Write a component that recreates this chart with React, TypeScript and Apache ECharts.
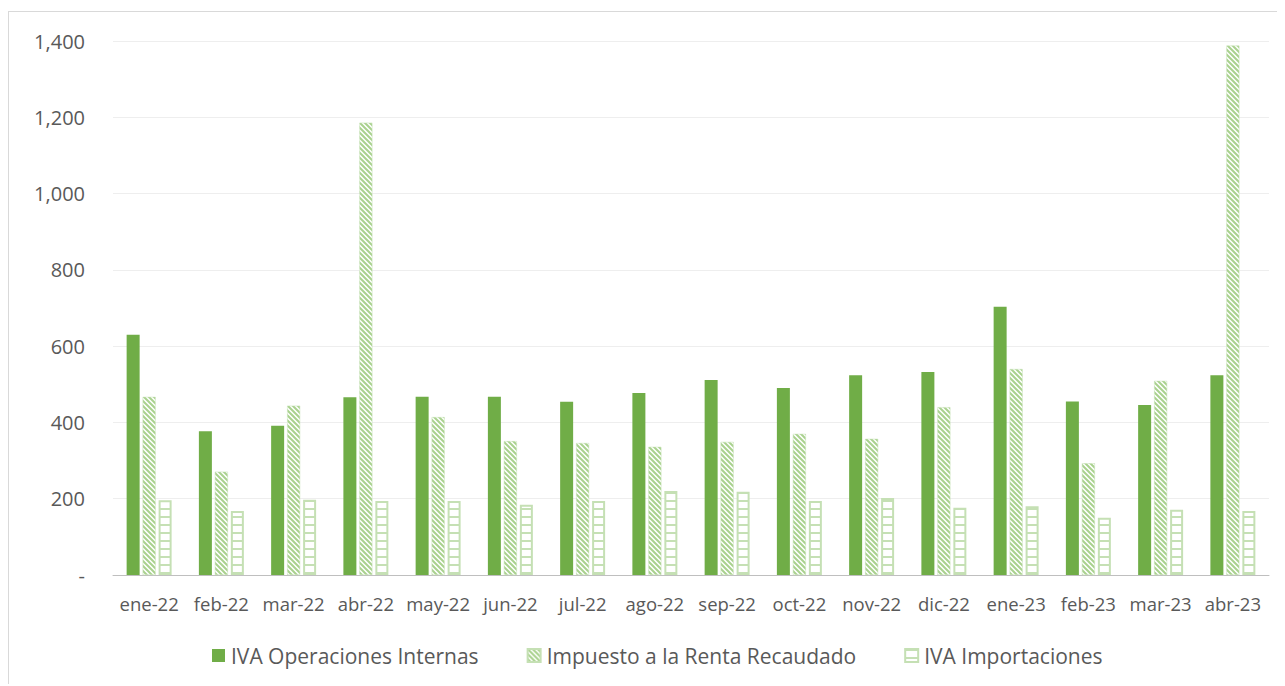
import React, { useEffect, useRef } from "react";
import * as echarts from "echarts";

const categories = ["ene-22","feb-22","mar-22","abr-22","may-22","jun-22","jul-22","ago-22","sep-22","oct-22","nov-22","dic-22","ene-23","feb-23","mar-23","abr-23"];
const ivaInternas = [630, 377, 391, 466, 467, 467, 454, 477, 511, 490, 524, 532, 703, 455, 446, 524];
const rentaRecaudado = [467, 271, 444, 1186, 414, 351, 346, 336, 349, 370, 357, 440, 540, 293, 509, 1388];
const ivaImportaciones = [196, 168, 197, 194, 194, 184, 194, 220, 218, 194, 202, 176, 180, 150, 171, 168];
const yTicks = [0, 200, 400, 600, 800, 1000, 1200, 1400];

const GREEN = "#70ad47";
const LIGHT = "#a9d18e";
const LIGHT2 = "#c5e0b4";

function hatchPattern() {
  const s = 5;
  const c = document.createElement("canvas");
  c.width = s; c.height = s;
  const ctx = c.getContext("2d")!;
  ctx.fillStyle = "#ffffff";
  ctx.fillRect(0, 0, s, s);
  ctx.strokeStyle = LIGHT;
  ctx.lineWidth = 2;
  ctx.beginPath();
  ctx.moveTo(-s, -s); ctx.lineTo(2 * s, 2 * s);
  ctx.moveTo(-s, 0); ctx.lineTo(s, 2 * s);
  ctx.moveTo(0, -s); ctx.lineTo(2 * s, s);
  ctx.stroke();
  return { image: c, repeat: "repeat", imageWidth: s, imageHeight: s } as any;
}

function rungPattern() {
  const w = 4, h = 8;
  const c = document.createElement("canvas");
  c.width = w; c.height = h;
  const ctx = c.getContext("2d")!;
  ctx.fillStyle = "#ffffff";
  ctx.fillRect(0, 0, w, h);
  ctx.fillStyle = LIGHT2;
  ctx.fillRect(0, 0, w, 2);
  return { image: c, repeat: "repeat", imageWidth: w, imageHeight: h } as any;
}

export default function App() {
  const ref = useRef<HTMLDivElement>(null);
  useEffect(() => {
    if (!ref.current) return;
    const chart = echarts.init(ref.current, undefined, { renderer: "svg" });
    const font = "Open Sans";
    chart.setOption({
      animation: false,
      textStyle: { fontFamily: font },
      grid: { left: 104, right: 16, top: 29, bottom: 111, containLabel: false },
      legend: {
        top: 628,
        left: 198,
        icon: "rect",
        itemWidth: 13,
        itemHeight: 13,
        itemGap: 48,
        textStyle: { color: "#595959", fontSize: 21, fontFamily: font, padding: [0, 0, 0, 1] },
        data: ["IVA Operaciones Internas", "Impuesto a la Renta Recaudado", "IVA Importaciones"],
      },
      xAxis: {
        type: "category",
        data: categories,
        axisTick: { show: false },
        axisLine: { lineStyle: { color: "#bfbfbf", width: 1 } },
        axisLabel: { color: "#595959", fontSize: 18.5, margin: 19, fontFamily: font, interval: 0 },
      },
      yAxis: {
        type: "value",
        min: 0,
        max: 1400,
        interval: 200,
        axisLine: { show: false },
        axisTick: { show: false },
        splitLine: { lineStyle: { color: "#eeeeee", width: 1 } },
        axisLabel: {
          color: "#595959",
          fontSize: 20,
          margin: 28,
          fontFamily: font,
          formatter: (v: number) => (v === 0 ? "-" : yTicks.includes(v) ? v.toLocaleString("en-US") : ""),
        },
      },
      series: [
        {
          name: "IVA Operaciones Internas",
          type: "bar",
          data: ivaInternas,
          barWidth: 13,
          barGap: "23%",
          itemStyle: { color: GREEN },
        },
        {
          name: "Impuesto a la Renta Recaudado",
          type: "bar",
          data: rentaRecaudado,
          barWidth: 13,
          barGap: "23%",
          itemStyle: { color: hatchPattern(), borderColor: LIGHT2, borderWidth: 0.5 },
        },
        {
          name: "IVA Importaciones",
          type: "bar",
          data: ivaImportaciones,
          barWidth: 13,
          barGap: "23%",
          itemStyle: { color: rungPattern(), borderColor: LIGHT2, borderWidth: 2 },
        },
      ],
    });
    return () => chart.dispose();
  }, []);
  return (
    <div style={{ position: "relative", top: 3, borderLeft: "1px solid #d9d9d9", borderTop: "1px solid #d9d9d9", width: 1280, height: 675 }}>
      <div ref={ref} style={{ width: 1276, height: 674 }} />
    </div>
  );
}
